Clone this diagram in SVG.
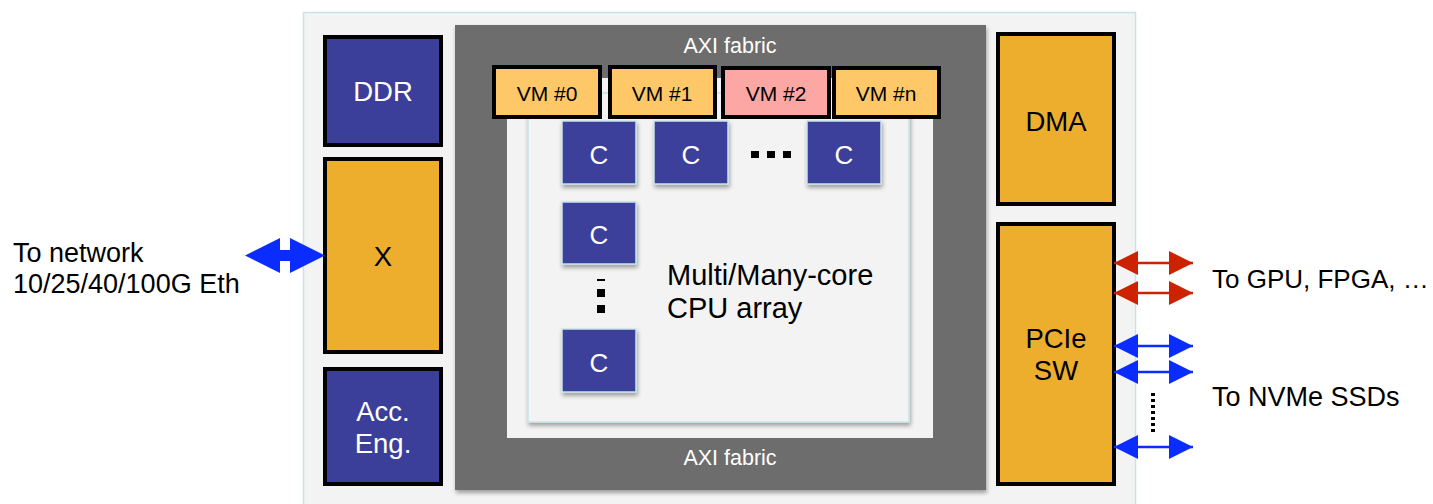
<svg xmlns="http://www.w3.org/2000/svg" width="1433" height="504" viewBox="0 0 1433 504">
<defs>
<filter id="sh" x="-10%" y="-10%" width="130%" height="130%">
<feGaussianBlur in="SourceAlpha" stdDeviation="2"/>
<feOffset dx="1" dy="3" result="b"/>
<feComponentTransfer><feFuncA type="linear" slope="0.35"/></feComponentTransfer>
<feMerge><feMergeNode/><feMergeNode in="SourceGraphic"/></feMerge>
</filter>
<marker id="bh" viewBox="0 0 10 10" refX="10" refY="5" markerWidth="25" markerHeight="24" markerUnits="userSpaceOnUse" orient="auto-start-reverse">
<path d="M0,0 L10,5 L0,10 Z" fill="#0a2cff"/>
</marker>
<marker id="rh" viewBox="0 0 10 10" refX="10" refY="5" markerWidth="25" markerHeight="24" markerUnits="userSpaceOnUse" orient="auto-start-reverse">
<path d="M0,0 L10,5 L0,10 Z" fill="#cc2200"/>
</marker>
</defs>
<style>
text{font-family:"Liberation Sans",Arial,sans-serif}
.blk{fill:#3c3f9a;stroke:#000;stroke-width:4}
.org{fill:#ecae2c;stroke:#000;stroke-width:4}
.vm{fill:#fec868;stroke:#000;stroke-width:4}
.core{fill:#3c3f9a;stroke:#c8e4e8;stroke-width:1.5}
.wt{fill:#fff;font-size:27.5px;text-anchor:middle}
.ct{fill:#fff;font-size:26px;text-anchor:middle}
.bt{fill:#000;font-size:27.5px;text-anchor:middle}
.vt{fill:#000;font-size:21px;text-anchor:middle}
.lbl{fill:#000;font-size:27px}
.big{fill:#000;font-size:29px}
.axi{fill:#fff;font-size:21.5px;text-anchor:middle}
.ba{stroke:#0a2cff;stroke-width:2.5;fill:none;marker-start:url(#bh);marker-end:url(#bh)}
.ra{stroke:#cc2200;stroke-width:2.5;fill:none;marker-start:url(#rh);marker-end:url(#rh)}
</style>
<rect width="1433" height="504" fill="#fff"/>
<g id="board"><rect x="303.5" y="12.5" width="832" height="500" fill="#f3f3f3" stroke="#c8e4e8" stroke-width="1.5"/></g>
<g id="axi">
<rect x="455" y="25" width="531" height="465" fill="#6d6d6d" filter="url(#sh)"/>
<rect x="507" y="78" width="426" height="360" fill="#f3f3f3"/>
<text class="axi" x="730" y="53">AXI fabric</text>
<text class="axi" x="730" y="465">AXI fabric</text>
</g>
<g id="cpu-array">
<rect x="528" y="93" width="381" height="329" fill="#f3f3f3" stroke="#c8e4e8" stroke-width="1.5" filter="url(#sh)"/>
<text class="big" x="667" y="285">Multi/Many-core</text>
<text class="big" x="667" y="318">CPU array</text>
</g>
<g id="core1"><rect class="core" x="562" y="121" width="74" height="63" filter="url(#sh)"/><text class="ct" x="599" y="164">C</text></g>
<g id="core2"><rect class="core" x="654" y="121" width="74" height="63" filter="url(#sh)"/><text class="ct" x="691" y="164">C</text></g>
<g id="core3"><rect class="core" x="807" y="121" width="74" height="63" filter="url(#sh)"/><text class="ct" x="844" y="164">C</text></g>
<g id="core4"><rect class="core" x="562" y="202" width="74" height="62" filter="url(#sh)"/><text class="ct" x="599" y="244">C</text></g>
<g id="core5"><rect class="core" x="562" y="329" width="74" height="63" filter="url(#sh)"/><text class="ct" x="599" y="372">C</text></g>
<g id="hdots" fill="#000">
<rect x="751" y="151" width="8" height="7"/><rect x="767" y="151" width="8" height="7"/><rect x="783" y="151" width="8" height="7"/>
</g>
<g id="vdots" fill="#000">
<rect x="597" y="279" width="8" height="2"/><rect x="597" y="289" width="8" height="8"/><rect x="597" y="305" width="8" height="8"/>
</g>
<g id="vm0"><rect class="vm" x="494" y="67" width="106" height="50"/><text class="vt" x="547" y="101">VM #0</text></g>
<g id="vm1"><rect class="vm" x="610" y="67" width="105" height="50"/><text class="vt" x="662" y="101">VM #1</text></g>
<g id="vm2"><rect class="vm" x="723" y="68" width="106" height="49" style="fill:#fda7a5"/><text class="vt" x="776" y="101">VM #2</text></g>
<g id="vmn"><rect class="vm" x="834" y="68" width="105" height="49"/><text class="vt" x="886" y="101">VM #n</text></g>
<g id="ddr"><rect class="blk" x="325" y="37" width="116" height="108"/><text class="wt" x="383" y="101">DDR</text></g>
<g id="x"><rect class="org" x="325" y="159" width="116" height="193"/><text class="bt" x="383" y="266">X</text></g>
<g id="acc"><rect class="blk" x="325" y="369" width="116" height="115"/><text class="wt" x="383" y="421">Acc.</text><text class="wt" x="383" y="453">Eng.</text></g>
<g id="dma"><rect class="org" x="998" y="34" width="116" height="170"/><text class="bt" x="1056" y="131">DMA</text></g>
<g id="pcie"><rect class="org" x="998" y="224" width="116" height="260"/><text class="bt" x="1056" y="348">PCIe</text><text class="bt" x="1056" y="380">SW</text></g>
<g id="connectors">
<path d="M245,255.5 L280,238 L280,250 L290,250 L290,238 L325,255.5 L290,273 L290,261 L280,261 L280,273 Z" fill="#0a2cff"/>
<line class="ra" x1="1114" y1="263" x2="1193" y2="263"/>
<line class="ra" x1="1114" y1="293" x2="1193" y2="293"/>
<line class="ba" x1="1114" y1="346" x2="1193" y2="346"/>
<line class="ba" x1="1114" y1="372" x2="1193" y2="372"/>
<line class="ba" x1="1114" y1="447" x2="1193" y2="447"/>
<line x1="1153" y1="393" x2="1153" y2="434" stroke="#000" stroke-width="4" stroke-dasharray="3,3"/>
</g>
<g id="labels">
<text class="lbl" x="13" y="262">To network</text>
<text class="lbl" x="13" y="293">10/25/40/100G Eth</text>
<text class="lbl" x="1212" y="288" style="font-size:26px">To GPU, FPGA, …</text>
<text class="lbl" x="1212" y="406">To NVMe SSDs</text>
</g>
</svg>
